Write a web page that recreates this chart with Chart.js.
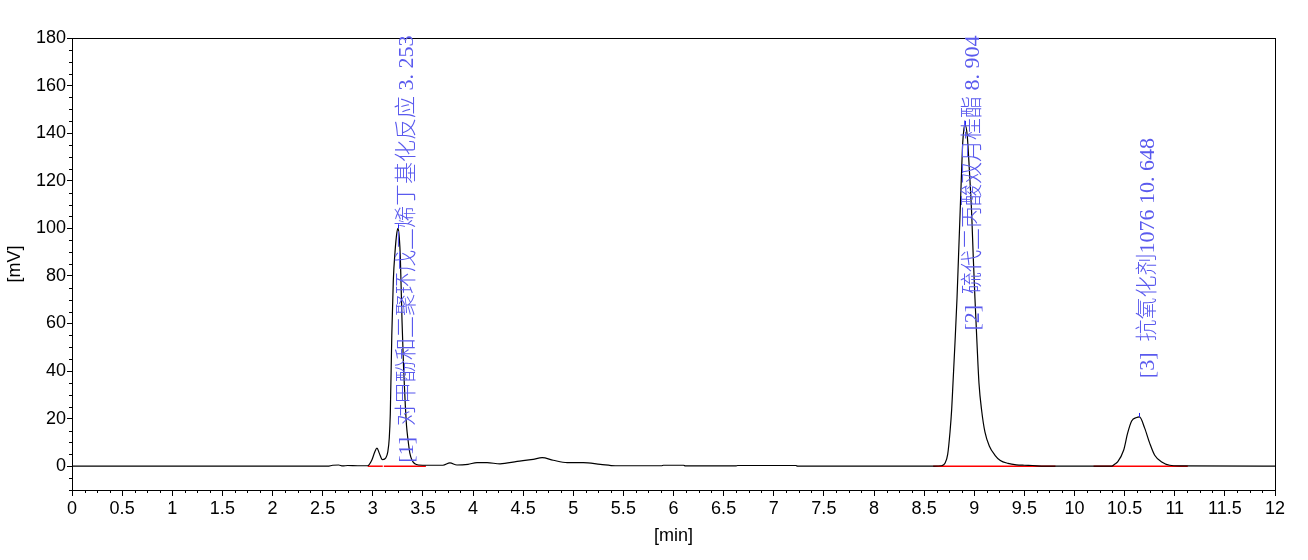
<!DOCTYPE html>
<html>
<head>
<meta charset="utf-8">
<script src="https://cdn.jsdelivr.net/npm/chart.js@4.4.0/dist/chart.umd.min.js"></script>
<style>
  html, body { margin: 0; padding: 0; background: #fff; }
  #wrap { width: 1308px; height: 560px; }
</style>
</head>
<body>
<div id="wrap"><canvas id="chrom"></canvas></div>
<script>
// detector trace (min, mV)
const times = [
  0, 2.55, 2.60, 2.66, 2.70, 2.75, 2.85, 2.95,
  2.99, 3.02, 3.042, 3.065, 3.09, 3.10, 3.13, 3.15, 3.165, 3.175, 3.19, 3.205,
  3.222, 3.24, 3.253, 3.265, 3.275, 3.292, 3.307, 3.322, 3.337, 3.352, 3.37,
  3.392, 3.42, 3.46, 3.55, 3.70, 3.77, 3.84, 3.95, 4.04, 4.14, 4.27, 4.44,
  4.60, 4.69, 4.80, 4.94, 5.10, 5.27, 5.42, 5.88, 5.90, 6.10, 6.12, 6.62,
  6.64, 7.22, 7.24, 8.60, 8.675, 8.708, 8.735, 8.758, 8.775, 8.788, 8.808,
  8.828, 8.843, 8.858, 8.872, 8.885, 8.898, 8.908, 8.93, 8.952, 8.975, 8.99,
  9.007, 9.027, 9.047, 9.075, 9.107, 9.15, 9.207, 9.26, 9.337, 9.42, 9.50,
  9.58, 9.70, 10.37, 10.40, 10.43, 10.49, 10.53, 10.57, 10.62, 10.648, 10.70,
  10.75, 10.80, 10.87, 10.95, 11.05, 12
];
const signal = [
  0, 0, 0.4, 0.5, 0.1, 0.3, 0.2, 0.2,
  2.5, 6.0, 7.6, 5.5, 3.0, 2.8, 3.5, 6, 12, 22, 55, 78,
  90, 98, 100, 96, 88, 61, 42, 28, 17, 11, 5.5,
  2.5, 1.0, 0.5, 0.4, 0.4, 1.4, 0.5, 0.8, 1.5, 1.5, 1.0, 2.0,
  2.9, 3.6, 2.5, 1.5, 1.5, 0.8, 0.2, 0.2, 0.4, 0.4, 0.1, 0.1,
  0.3, 0.3, 0, 0, 0.2, 1.2, 5, 14.3, 24, 35, 52,
  70.6, 88, 105.5, 122, 136, 142, 143.5, 139, 124, 105.5, 88,
  70.6, 52, 35, 23, 14.3, 8.5, 4.6, 2.4, 1.2, 0.6, 0.4,
  0.3, 0, 0, 0.8, 1.8, 6.7, 13.9, 19, 20.5, 20.7, 16,
  9.7, 4.6, 1.8, 0.4, 0.1, 0
];

// integrated peaks
const peakTimes = [3.253, 8.904, 10.648];
const peakHeights = [100, 143.5, 20.7];
const peakNames = [
  '[1]  对甲酚和二聚环戊二烯丁基化反应 3. 253',
  '[2]  硫代二丙酸双月桂酯 8. 904',
  '[3]  抗氧化剂1076 10. 648'
];

// baseline segments drawn under the peaks
const baseStart = [2.95, 3.11, 8.59, 10.19];
const baseEnd = [3.10, 3.53, 9.81, 11.13];

const xTicks = [0, 0.5, 1, 1.5, 2, 2.5, 3, 3.5, 4, 4.5, 5, 5.5, 6, 6.5, 7, 7.5, 8, 8.5, 9, 9.5, 10, 10.5, 11, 11.5, 12];
const yTicks = [0, 20, 40, 60, 80, 100, 120, 140, 160, 180];

const axisFont = { family: '"Liberation Sans", Arial, sans-serif', size: 18 };

// frame, minor ticks, apex marks and peak labels
const decorPlugin = {
  id: 'decor',
  afterDraw(chart, args, opts) {
    const { ctx, chartArea: a } = chart;
    const xs = chart.scales.x, ys = chart.scales.y;
    ctx.save();
    ctx.strokeStyle = '#000';
    ctx.lineWidth = 1;
    ctx.strokeRect(Math.round(a.left) + 0.5, Math.round(a.top) + 0.5,
      Math.round(a.right - a.left), Math.round(a.bottom - a.top));

    ctx.beginPath();
    for (let v = -10; v <= 180; v += 5) {
      if (v % 20 === 0) continue;
      const py = Math.round(ys.getPixelForValue(v)) + 0.5;
      ctx.moveTo(a.left - 3, py);
      ctx.lineTo(a.left, py);
    }
    for (let k = 0; k <= 96; k++) {
      if (k % 4 === 0) continue;
      const px = Math.round(xs.getPixelForValue(k * 0.125)) + 0.5;
      ctx.moveTo(px, a.bottom);
      ctx.lineTo(px, a.bottom + 3);
    }
    ctx.stroke();

    ctx.strokeStyle = '#2020ff';
    ctx.beginPath();
    peakTimes.forEach((t, i) => {
      const px = Math.round(xs.getPixelForValue(t)) + 0.5;
      const py = ys.getPixelForValue(peakHeights[i]);
      ctx.moveTo(px, py);
      ctx.lineTo(px, py - 4);
    });
    ctx.stroke();

    ctx.fillStyle = opts.color;
    ctx.font = '300 22px "Liberation Serif", "Noto Sans CJK SC", serif';
    ctx.textAlign = 'left';
    ctx.textBaseline = 'middle';
    peakTimes.forEach((t, i) => {
      ctx.save();
      ctx.translate(xs.getPixelForValue(t) + 9, ys.getPixelForValue(opts.anchors[i]));
      ctx.rotate(-Math.PI / 2);
      ctx.fillText(peakNames[i], 0, 0);
      ctx.restore();
    });
    ctx.restore();
  }
};

const datasets = [{
  data: times.map((t, i) => ({ x: t, y: signal[i] })),
  borderColor: '#000',
  borderWidth: 1.2,
  pointRadius: 0,
  cubicInterpolationMode: 'monotone',
  order: 0
}];
baseStart.forEach((s, i) => {
  datasets.push({
    data: [{ x: s, y: 0 }, { x: baseEnd[i], y: 0 }],
    borderColor: '#ff0000',
    borderWidth: 1.5,
    pointRadius: 0,
    order: 1
  });
});

new Chart(document.getElementById('chrom'), {
  type: 'line',
  data: { datasets: datasets },
  options: {
    responsive: true,
    maintainAspectRatio: false,
    animation: false,
    layout: { padding: { top: 38, right: 33, left: 0, bottom: 0 } },
    plugins: {
      legend: { display: false },
      tooltip: { enabled: false },
      decor: { color: '#5a5aee', anchors: [1.5, 57, 37] }
    },
    scales: {
      x: {
        type: 'linear',
        min: 0,
        max: 12,
        afterBuildTicks: s => { s.ticks = xTicks.map(v => ({ value: v })); },
        afterFit: s => { s.height = 70; },
        ticks: { color: '#000', font: axisFont, padding: 2, maxRotation: 0, autoSkip: false, callback: v => String(v) },
        grid: { drawOnChartArea: false, tickLength: 6, color: '#000' },
        border: { color: '#000' },
        title: { display: true, text: '[min]', color: '#000', font: axisFont, padding: { top: 4, bottom: 13 } }
      },
      y: {
        min: -10,
        max: 180,
        afterBuildTicks: s => { s.ticks = yTicks.map(v => ({ value: v })); },
        afterFit: s => { s.width = 72; },
        ticks: { color: '#000', font: axisFont, padding: 1, callback: v => String(v) },
        grid: { drawOnChartArea: false, tickLength: 5, color: '#000' },
        border: { color: '#000' },
        title: { display: true, text: '[mV]', color: '#000', font: axisFont, padding: { top: 4, bottom: 4 } }
      }
    }
  },
  plugins: [decorPlugin]
});
</script>
</body>
</html>
